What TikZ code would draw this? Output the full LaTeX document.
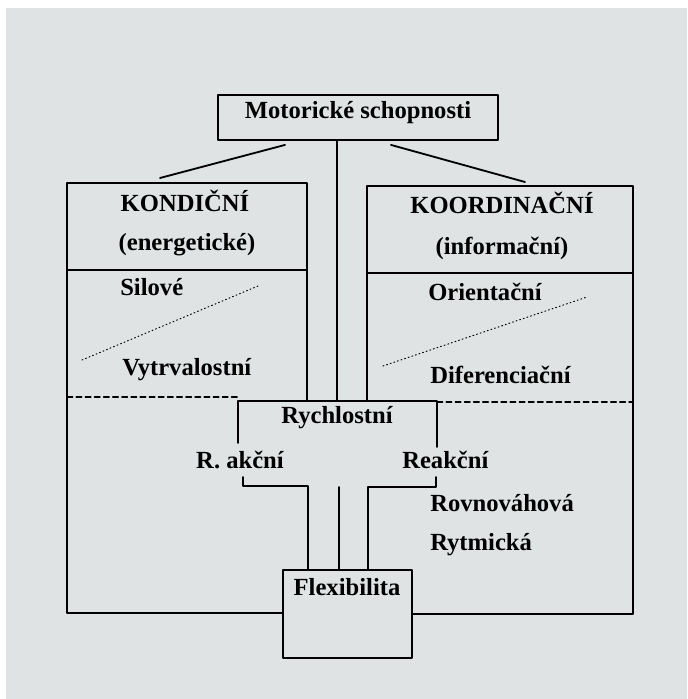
\documentclass[tikz,border=0pt]{standalone}
\usepackage{fontspec}
\setmainfont{Liberation Serif}
\usetikzlibrary{calc}

\definecolor{paper}{RGB}{223,227,227}

\begin{document}
\begin{tikzpicture}[x=0.025cm, y=-0.025cm, line cap=round, line join=round,
	bline/.style={line width=1.3pt},
	txt/.style={font=\fontsize{17.5}{20}\selectfont\bfseries, inner sep=0pt},
	sepline/.style={line width=0.9pt, dash pattern=on 4pt off 2.5pt},
	dotline/.style={line width=0.7pt, dotted}]
	
	% paper
	\fill[white] (0,0) rectangle (687,699);
	\fill[paper] (6,8) rectangle (687,699);
	\useasboundingbox (0,0) rectangle (687,699);
	
	% ===== Top: root box =====
	\node[draw, bline, minimum width=7cm, minimum height=1.125cm] (top) at (358,117.5) {};
	\node[txt] (motor) at (358,113) {Motorické schopnosti};
	\coordinate (kondtip) at (160,178);
	\coordinate (koortip) at (525,182);
	\coordinate (rychtop) at (337,401);
	\draw[bline] ($(top.south)+(-73,4)$) -- (kondtip);
	\draw[bline] ($(top.south)+(33,4)$) -- (koortip);
	\draw[bline] (rychtop |- top.south) -- (rychtop);
	
	% ===== Left: KONDICNI =====
	\begin{scope}
		\draw[bline] (307,401) -- (307,183) -- (67,183) -- (67,613) -- (283,613);
		\draw[bline] (67,270) -- (307,270);
		\node[txt] (kond) at (185,201) {KONDIČNÍ};
		\node[txt] (energ) at (187,245) {(energetické)};
		\node[txt, anchor=west] (sil) at (120,287) {Silové};
		\node[txt, anchor=west] (vytr) at (122,370) {Vytrvalostní};
		\draw[dotline] (82,360) -- (258,286);
		\draw[sepline] (67,397) -- (238,397);
	\end{scope}
	
	% ===== Right: KOORDINACNI =====
	\begin{scope}
		\draw[bline] (367,401) -- (367,186) -- (633,186) -- (633,614) -- (412,614);
		\draw[bline] (367,273) -- (633,273);
		\node[txt] (koord) at (502,203) {KOORDINAČNÍ};
		\node[txt] (inform) at (502,248) {(informační)};
		\node[txt, anchor=west] (orient) at (428,292) {Orientační};
		\node[txt, anchor=west] (difer) at (430,375) {Diferenciační};
		\draw[dotline] (383,366) -- (587,297);
		\draw[sepline] (437,402) -- (633,402);
	\end{scope}
	
	% ===== Middle: Rychlostni + Flexibilita =====
	\draw[bline] (238,443) -- (238,401) -- (437,401) -- (437,447);
	\node[txt] (rych) at (337,418) {Rychlostní};
	\node[txt] (rakc) at (240,460) {R. akční};
	\node[txt, anchor=west] (reak) at (402,460) {Reakční};
	\node[txt, anchor=west] (rovn) at (430,503) {Rovnováhová};
	\node[txt, anchor=west] (rytm) at (430,545) {Rytmická};
	
	\node[draw, bline, minimum width=3.225cm, minimum height=2.2cm] (flexbox) at (347.5,614) {};
	\node[txt] (flex) at (347,587) {Flexibilita};
	
	\draw[bline] (243,477) -- (243,486) -- (308,486) -- (308,486 |- flexbox.north);
	\draw[bline] (436,477) -- (436,487) -- (368,487) -- (368,487 |- flexbox.north);
	\draw[bline] (339,487) -- (339,487 |- flexbox.north);
	
\end{tikzpicture}
\end{document}
